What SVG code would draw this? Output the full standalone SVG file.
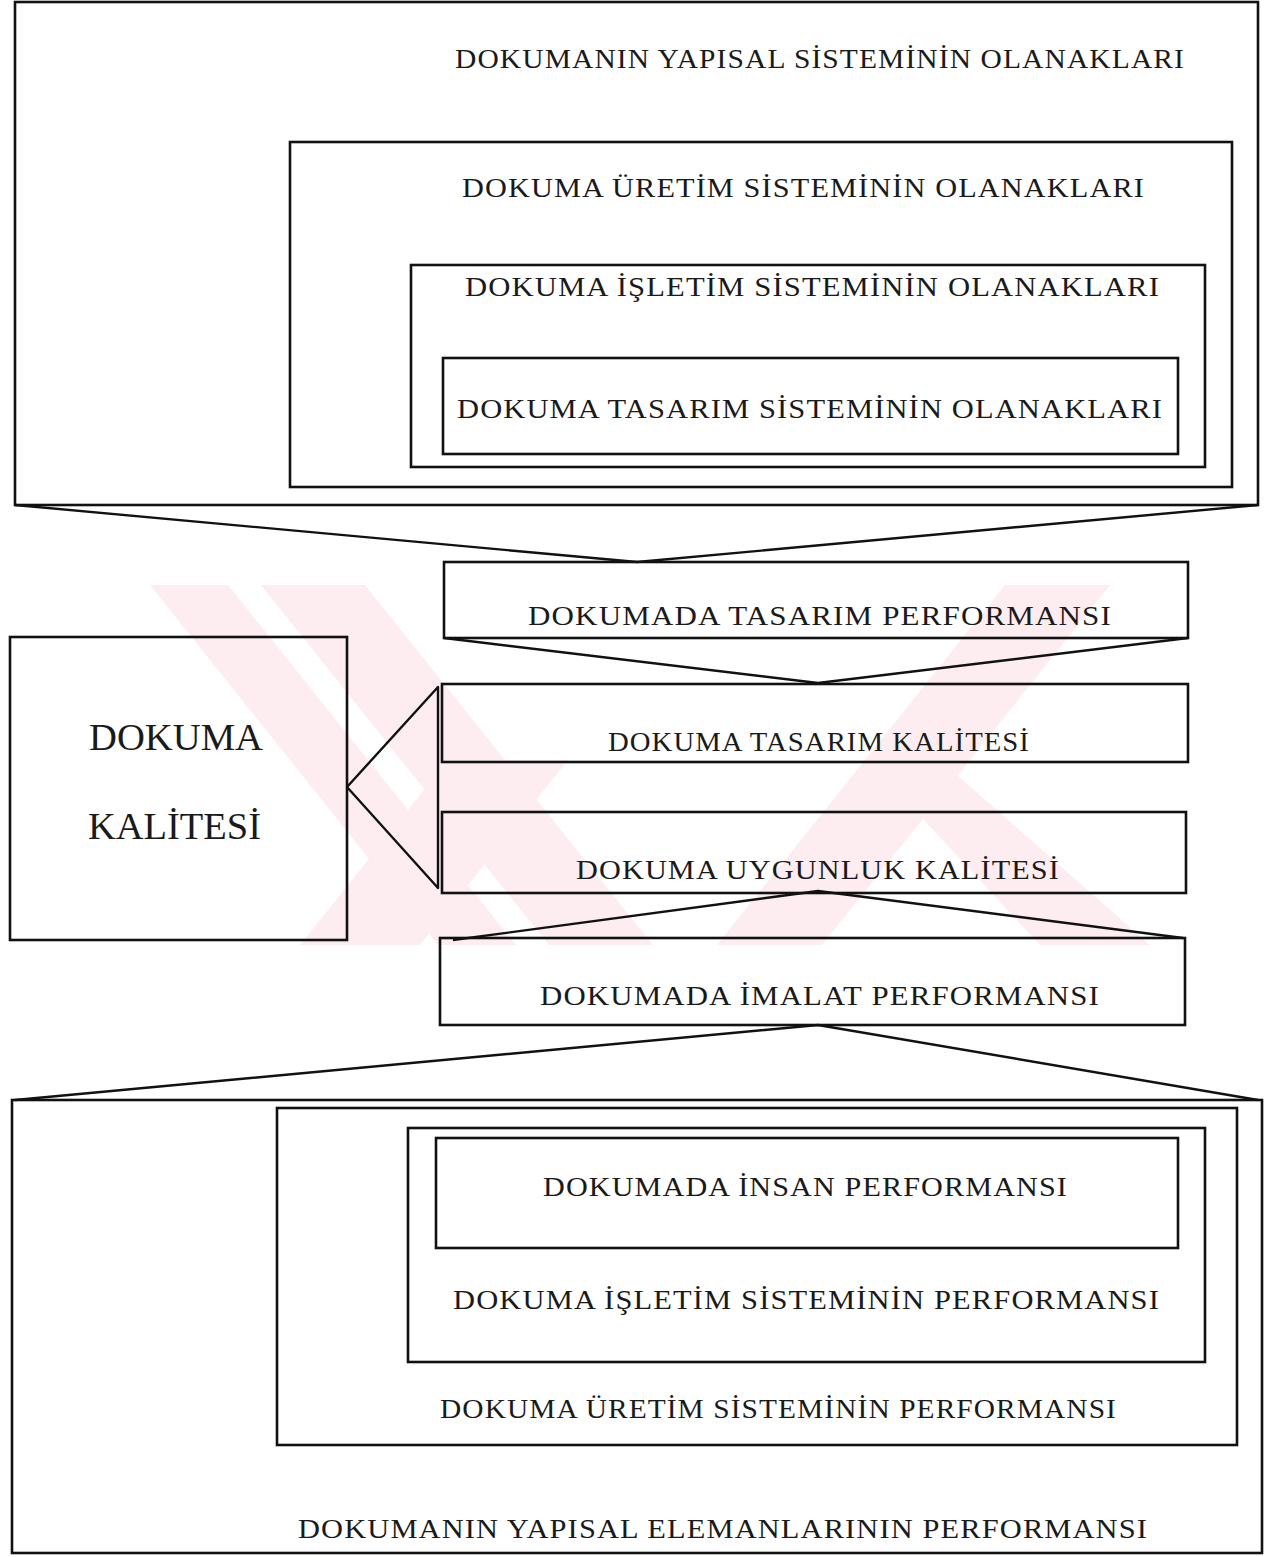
<svg xmlns="http://www.w3.org/2000/svg" width="1266" height="1557" viewBox="0 0 1266 1557">
<style>
.box{fill:none;stroke:#111;stroke-width:2.6}
.ln{fill:none;stroke:#111;stroke-width:2.4;stroke-linejoin:round}
.t{font-family:"Liberation Serif","Times New Roman",serif;font-size:27px;fill:#1a1a1a;letter-spacing:1px}
.big{font-family:"Liberation Serif","Times New Roman",serif;font-size:37px;fill:#1a1a1a}
.wm{fill:#fdedf1}
.wg{fill:#ffffff}
</style>
<rect width="1266" height="1557" fill="#ffffff"/>
<g id="watermark">
<polygon class="wm" points="150,585 365,585 653,945 438,945"/>
<polygon class="wg" points="228,585 261,585 549,945 516,945"/>
<polygon class="wm" points="1005,585 1110,585 822,945 717,945"/>
<polygon class="wm" points="448,760 568,760 420,945 300,945"/>
<polygon class="wm" points="868,760 940,760 1150,945 1040,945"/>
</g>
<g id="n-yapisal-olanak">
<rect class="box" x="15" y="2" width="1243" height="503"/>
<text class="t" x="455" y="68" textLength="730" lengthAdjust="spacingAndGlyphs">DOKUMANIN YAPISAL SİSTEMİNİN OLANAKLARI</text>
</g>
<g id="n-uretim-olanak">
<rect class="box" x="290" y="142" width="942" height="345"/>
<text class="t" x="462" y="197" textLength="683" lengthAdjust="spacingAndGlyphs">DOKUMA ÜRETİM SİSTEMİNİN OLANAKLARI</text>
</g>
<g id="n-isletim-olanak">
<rect class="box" x="411" y="265" width="794" height="202"/>
<text class="t" x="465" y="296" textLength="695" lengthAdjust="spacingAndGlyphs">DOKUMA İŞLETİM SİSTEMİNİN OLANAKLARI</text>
</g>
<g id="n-tasarim-olanak">
<rect class="box" x="443" y="358" width="735" height="96"/>
<text class="t" x="457" y="418" textLength="706" lengthAdjust="spacingAndGlyphs">DOKUMA TASARIM SİSTEMİNİN OLANAKLARI</text>
</g>
<g id="n-tasarim-perf">
<rect class="box" x="444" y="562" width="744" height="76"/>
<text class="t" x="528" y="625" textLength="584" lengthAdjust="spacingAndGlyphs">DOKUMADA TASARIM PERFORMANSI</text>
</g>
<g id="n-tasarim-kalite">
<rect class="box" x="442" y="684" width="746" height="78"/>
<text class="t" x="608" y="751" textLength="422" lengthAdjust="spacingAndGlyphs">DOKUMA TASARIM KALİTESİ</text>
</g>
<g id="n-uygunluk-kalite">
<rect class="box" x="442" y="812" width="744" height="81"/>
<text class="t" x="576" y="879" textLength="484" lengthAdjust="spacingAndGlyphs">DOKUMA UYGUNLUK KALİTESİ</text>
</g>
<g id="n-dokuma-kalitesi">
<rect class="box" x="10" y="637" width="337" height="303"/>
<text class="big" x="89" y="750" textLength="174" lengthAdjust="spacingAndGlyphs">DOKUMA</text>
<text class="big" x="88" y="839" textLength="173" lengthAdjust="spacingAndGlyphs">KALİTESİ</text>
</g>
<g id="n-imalat-perf">
<rect class="box" x="440" y="938" width="745" height="87"/>
<text class="t" x="540" y="1005" textLength="560" lengthAdjust="spacingAndGlyphs">DOKUMADA İMALAT PERFORMANSI</text>
</g>
<g id="n-yapisal-eleman">
<rect class="box" x="12" y="1100" width="1250" height="453"/>
<text class="t" x="298" y="1538" textLength="850" lengthAdjust="spacingAndGlyphs">DOKUMANIN YAPISAL ELEMANLARININ PERFORMANSI</text>
</g>
<g id="n-uretim-perf">
<rect class="box" x="277" y="1108" width="960" height="337"/>
<text class="t" x="440" y="1418" textLength="677" lengthAdjust="spacingAndGlyphs">DOKUMA ÜRETİM SİSTEMİNİN PERFORMANSI</text>
</g>
<g id="n-isletim-perf">
<rect class="box" x="408" y="1128" width="797" height="234"/>
<text class="t" x="453" y="1309" textLength="707" lengthAdjust="spacingAndGlyphs">DOKUMA İŞLETİM SİSTEMİNİN PERFORMANSI</text>
</g>
<g id="n-insan-perf">
<rect class="box" x="436" y="1138" width="742" height="110"/>
<text class="t" x="543" y="1196" textLength="525" lengthAdjust="spacingAndGlyphs">DOKUMADA İNSAN PERFORMANSI</text>
</g>
<g id="connectors">
<polyline class="ln" points="15,505 637,562 1258,505"/>
<polyline class="ln" points="444,638 818,683 1188,638"/>
<polyline class="ln" points="347,787 438,687 438,888 347,787"/>
<polyline class="ln" points="453,940 818,891 1183,938"/>
<polyline class="ln" points="15,1100 818,1025 1258,1100"/>
</g>
</svg>
